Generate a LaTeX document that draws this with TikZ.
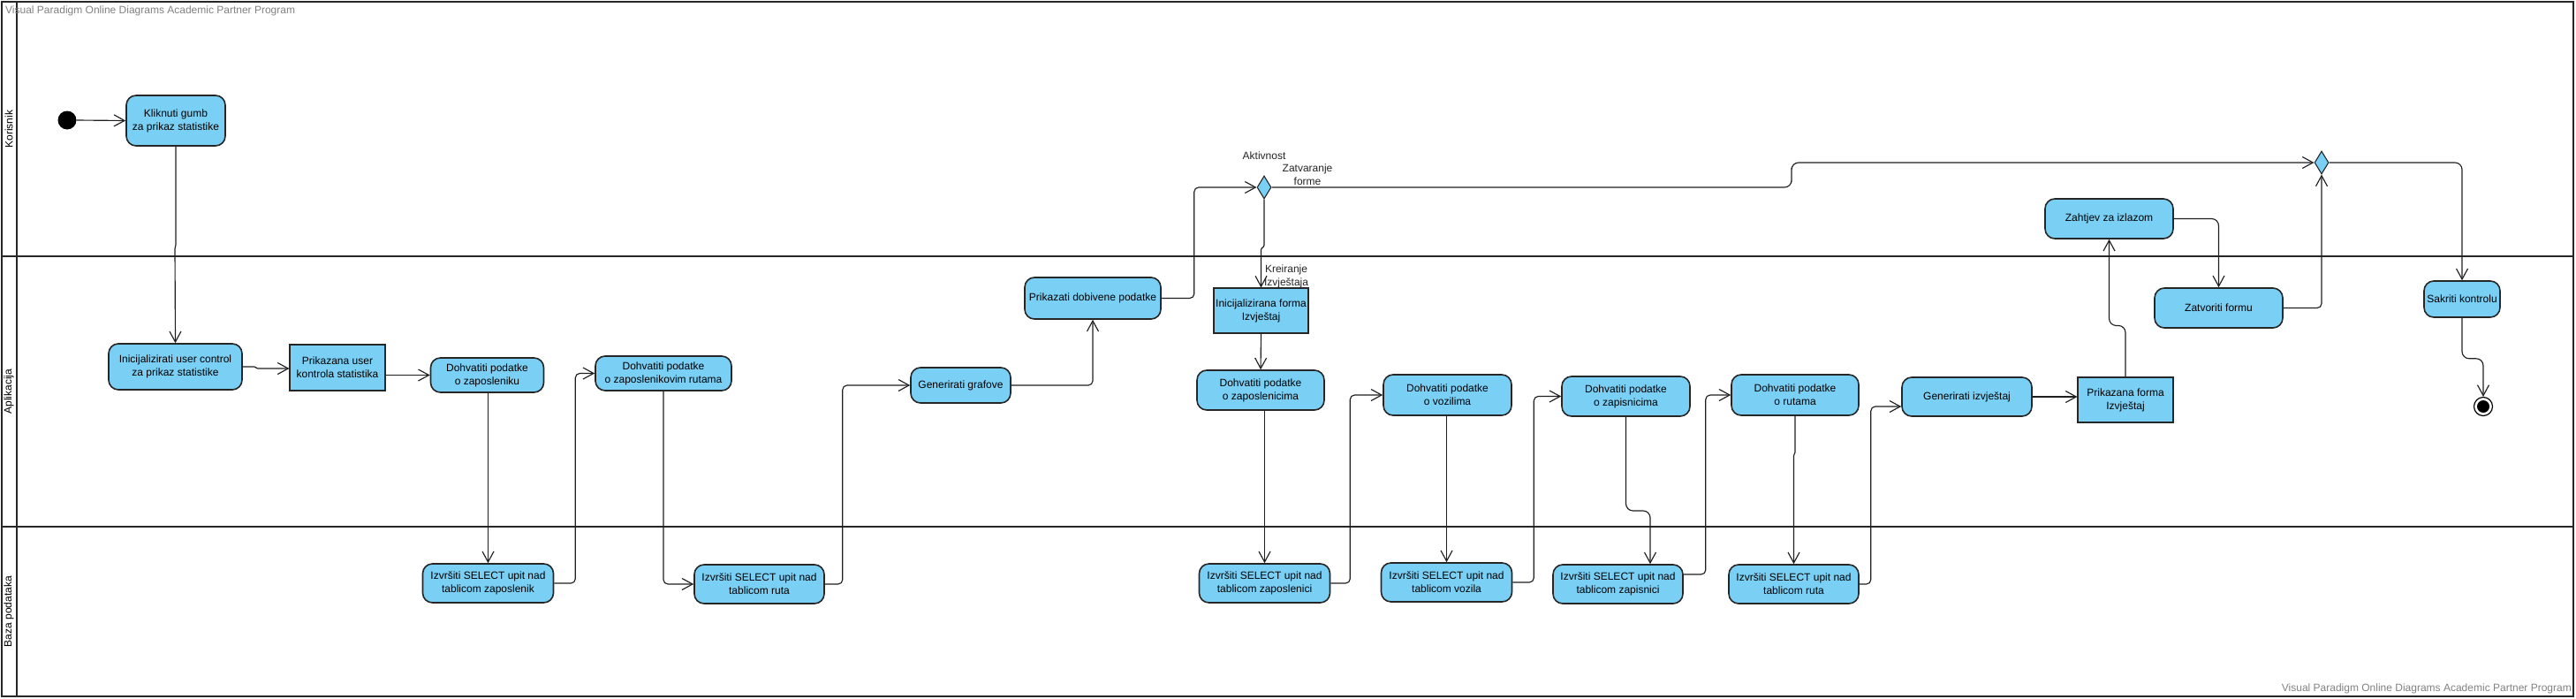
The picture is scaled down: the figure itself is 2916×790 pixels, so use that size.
\documentclass[tikz,border=0pt]{standalone}
\usepackage{fontspec}
\setmainfont{Liberation Sans}
\usetikzlibrary{arrows.meta,shapes.geometric}
\definecolor{actfill}{RGB}{122,207,244}
\definecolor{actdraw}{RGB}{38,38,38}
\definecolor{wmgray}{RGB}{130,130,130}
\begin{document}
\begin{tikzpicture}[x=1pt,y=-1pt,
  font=\fontsize{12}{15}\selectfont,
  act/.style={draw=actdraw, line width=1.6pt, fill=actfill, rounded corners=11pt, align=center, inner sep=0pt},
  obj/.style={draw=actdraw, line width=1.1pt, fill=actfill, align=center, inner sep=0pt},
  dec/.style={diamond, draw=actdraw, line width=1.1pt, fill=actfill, inner sep=0pt, minimum width=16pt, minimum height=26pt},
  flow/.style={draw=black!88, line width=1.15pt, rounded corners=5pt, -{Straight Barb[length=12pt,width=13pt]}},
  lbl/.style={align=center, inner sep=0pt, text=black!85},
  lane/.style={rotate=90, inner sep=0pt},
  wm/.style={text=wmgray, inner sep=0pt}
]
\useasboundingbox (0,0) rectangle (2916,790);
\fill[white] (0,0) rectangle (2916,790);

% frame and lanes
\draw[line width=1.5pt, draw=black!85] (2,2) rectangle (2913,788);
\draw[line width=2pt, draw=black!85] (19,2) -- (19,788);
\draw[line width=2.8pt, draw=black!85] (2,290) -- (2913,290);
\draw[line width=2.8pt, draw=black!85] (2,596) -- (2913,596);
\node[lane] (lk) at (10,146) {Korisnik};
\node[lane] (la) at (10,443) {Aplikacija};
\node[lane] (lb) at (10,692) {Baza podataka};

\node[wm, anchor=west] (wm1) at (6,12) {Visual Paradigm Online Diagrams Academic Partner Program};
\node[wm, anchor=east] (wm2) at (2911,779) {Visual Paradigm Online Diagrams Academic Partner Program};

% nodes
\node[circle, fill=black, minimum size=21pt, inner sep=0pt] (st) at (76,136) {};
\node[act, minimum width=112pt, minimum height=57pt] (kg) at (199,136.5) {Kliknuti gumb\\za prikaz statistike};
\node[act, minimum width=151pt, minimum height=52pt] (init) at (198.5,415) {Inicijalizirati user control\\za prikaz statistike};
\node[obj, minimum width=108pt, minimum height=52pt] (puk) at (382,416) {Prikazana user\\kontrola statistika};
\node[act, minimum width=128pt, minimum height=39pt] (dz) at (551.5,424.5) {Dohvatiti podatke\\o zaposleniku};
\node[act, minimum width=154pt, minimum height=39pt] (dzr) at (751,422.5) {Dohvatiti podatke\\o zaposlenikovim rutama};
\node[act, minimum width=148pt, minimum height=44pt] (iz1) at (552.5,660) {Izvršiti SELECT upit nad\\tablicom zaposlenik};
\node[act, minimum width=147pt, minimum height=44pt] (ir1) at (859.5,661) {Izvršiti SELECT upit nad\\tablicom ruta};
\node[act, minimum width=113pt, minimum height=40pt] (gg) at (1087.5,436) {Generirati grafove};
\node[act, minimum width=154pt, minimum height=47pt] (pdp) at (1237,337.5) {Prikazati dobivene podatke};
\node[dec] (d1) at (1431,212) {};
\node[lbl] (lak) at (1431,176) {Aktivnost};
\node[lbl] (lzf) at (1480,197.5) {Zatvaranje\\forme};
\node[lbl] (lkr) at (1456,313) {Kreiranje\\Izvještaja};
\node[obj, minimum width=107pt, minimum height=51pt] (ifi) at (1427.5,351.5) {Inicijalizirana forma\\Izvještaj};
\node[act, minimum width=144pt, minimum height=45pt] (dzc) at (1427,441.5) {Dohvatiti podatke\\o zaposlenicima};
\node[act, minimum width=148pt, minimum height=44pt] (izc) at (1431.5,660) {Izvršiti SELECT upit nad\\tablicom zaposlenici};
\node[act, minimum width=145pt, minimum height=46pt] (dv) at (1638.5,447) {Dohvatiti podatke\\o vozilima};
\node[act, minimum width=148pt, minimum height=44pt] (iv) at (1637.5,659) {Izvršiti SELECT upit nad\\tablicom vozila};
\node[act, minimum width=145pt, minimum height=45pt] (dzap) at (1840.5,448.5) {Dohvatiti podatke\\o zapisnicima};
\node[act, minimum width=147pt, minimum height=44pt] (izap) at (1831.5,661) {Izvršiti SELECT upit nad\\tablicom zapisnici};
\node[act, minimum width=144pt, minimum height=46pt] (dr) at (2032,447) {Dohvatiti podatke\\o rutama};
\node[act, minimum width=147pt, minimum height=44pt] (ir2) at (2030.5,661) {Izvršiti SELECT upit nad\\tablicom ruta};
\node[act, minimum width=147pt, minimum height=44pt] (gi) at (2226.5,449) {Generirati izvještaj};
\node[obj, minimum width=108pt, minimum height=51pt] (pfi) at (2406,452.5) {Prikazana forma\\Izvještaj};
\node[act, minimum width=145pt, minimum height=45pt] (zi) at (2387.5,247.5) {Zahtjev za izlazom};
\node[act, minimum width=145pt, minimum height=45pt] (zf) at (2511.5,348.5) {Zatvoriti formu};
\node[dec] (d2) at (2628,184) {};
\node[act, minimum width=86pt, minimum height=41pt] (sk) at (2787,338.5) {Sakriti kontrolu};
\node[circle, draw=black, line width=1.2pt, fill=white, minimum size=21pt, inner sep=0pt] (fin) at (2811,460) {};
\fill[black] (fin.center) circle (7pt);

\coordinate (j1) at (2028,198);
\coordinate (j2) at (1868,578);

% connectors
\draw[flow] (st.east) -- (kg.west);
\draw[flow, rounded corners=1pt] (kg.south) -- ++(0,112) -- ++(-1,3) -- (init.north);
\draw[flow, rounded corners=1pt] (init.east) -- ++(14,0) -- ++(2,2) -- (puk.west |- 0,417);
\draw[flow] (puk.east |- dz.west) -- (dz.west);
\draw[flow] (dz.south -| iz1.north) -- (iz1.north);
\draw[flow] (iz1.east) -- ++(24,0) |- (dzr.west);
\draw[flow] (dzr.south) |- (ir1.west);
\draw[flow] (ir1.east) -- ++(20,0) |- (gg.west);
\draw[flow] (gg.east) -| (pdp.south);
\draw[flow] (pdp.east) -- ++(37,0) |- (d1.west);
\draw[flow, rounded corners=1pt] (d1.south) -- ++(0,53) -- ++(-3.5,3) -- (ifi.north);
\draw[flow, rounded corners=8pt] (d1.east) -| (j1) |- (d2.west);
\draw[flow] (ifi.south) -- (dzc.north);
\draw[flow] (izc.north |- dzc.south) -- (izc.north);
\draw[flow] (izc.east) -- ++(22,0) |- (dv.west);
\draw[flow] (iv.north |- dv.south) -- (iv.north);
\draw[flow] (iv.east) -- ++(24,0) |- (dzap.west);
\draw[flow, rounded corners=8pt] (dzap.south) |- (j2) -- (j2 |- izap.north);
\draw[flow] ([yshift=11pt]izap.east) -- ++(25,0) |- (dr.west);
\draw[flow, rounded corners=1pt] (dr.south) -- ++(0,42) -- ++(-1.5,2) -- (ir2.north);
\draw[flow] (ir2.east) -- ++(13,0) |- ([yshift=-11pt]gi.west);
\draw[flow] (gi.east) -- (gi.east -| pfi.west);
\draw[flow, rounded corners=8pt] (pfi.north) -- ++(0,-58) -| (zi.south);
\draw[flow, rounded corners=8pt] (zi.east) -| (zf.north);
\draw[flow] (zf.east) -| (d2.south);
\draw[flow, rounded corners=8pt] (d2.east) -| (sk.north);
\draw[flow, rounded corners=8pt] (sk.south) -- ++(0,46) -| (fin.north);
\end{tikzpicture}
\end{document}
